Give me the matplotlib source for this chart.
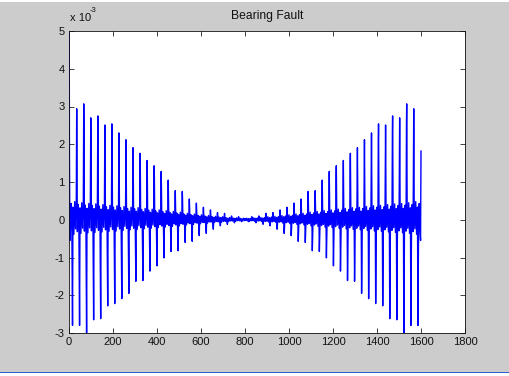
import matplotlib
matplotlib.use("Agg")
import matplotlib.pyplot as plt
from matplotlib.ticker import MultipleLocator, FuncFormatter
from matplotlib.patches import Rectangle

# left half of the trace (units of 1e-3);
# the trace is mirror symmetric about sample 801
period = 32
start_vals = [5.0, 1.82, 0.7, -0.55]          # samples 1..4
center_value = 0.03                            # sample 801
pos_peak = [2.94, 3.07, 2.70, 2.75, 2.51, 2.54, 2.30, 2.12, 1.91, 1.76, 1.57, 1.43,
            1.28, 1.05, 0.77, 0.75, 0.55, 0.44, 0.33, 0.26, 0.19, 0.17, 0.10, 0.08]
pos_next = [1.87, 2.54, 1.93, 2.36, 1.65, 2.09, 1.56, 1.45, 1.38, 1.52, 1.19, 1.13,
            0.90, 0.70, 0.50, 0.55, 0.35, 0.30, 0.20, 0.18, 0.12, 0.10, 0.06, 0.05]
neg_peak = [-2.80, -2.80, -3.05, -2.65, -2.62, -2.28, -2.22, -2.09, -1.95, -1.63, -1.61,
            -1.36, -1.22, -1.01, -0.84, -0.82, -0.60, -0.57, -0.42, -0.36, -0.25, -0.16,
            -0.12, -0.08, -0.05]
ripple = [0.48, 0.45, 0.43, 0.42, 0.4, 0.38, 0.37, 0.35, 0.33, 0.32, 0.3, 0.28, 0.26,
          0.24, 0.22, 0.2, 0.17, 0.15, 0.13, 0.11, 0.09, 0.08, 0.06, 0.05, 0.04]

# shape of the small oscillation inside one period (offset, fraction of ripple)
ripple_shape = [(0, 0.8), (5, -0.7), (9, 0.9), (12, -0.4),
                (17, 0.7), (21, -0.8), (25, 1.0), (29, -0.5)]

xs, ys = [], []
for k in range(len(neg_peak)):
    s = period * k + 1
    pts = {off: f * ripple[k] for off, f in ripple_shape}
    if k == 0:
        for i, v in enumerate(start_vals):
            pts[i] = v
    else:
        pts[2] = pos_peak[k - 1]
        pts[3] = pos_next[k - 1]
    pts[14] = 0.65 * neg_peak[k]
    pts[15] = neg_peak[k]
    for off in sorted(pts):
        xs.append(s + off)
        ys.append(pts[off])
xs.append(801)
ys.append(center_value)

right = [(1602 - x, y) for x, y in zip(xs, ys) if 2 <= x <= 800][::-1]
xs = xs + [p[0] for p in right]
ys = ys + [p[1] for p in right]
ys = [v * 1e-3 for v in ys]

plt.rcParams['font.family'] = ['Liberation Sans', 'DejaVu Sans']

fig = plt.figure(figsize=(5.10, 3.76), dpi=100, facecolor='#cccccc')
ax = fig.add_axes([69 / 510, 1 - 333 / 376, 396 / 510, 302 / 376])
ax.plot(xs, ys, color='#0000ff', linewidth=1.0)

ax.set_xlim(0, 1800)
ax.set_ylim(-3e-3, 5e-3)
ax.xaxis.set_major_locator(MultipleLocator(200))
ax.yaxis.set_major_locator(MultipleLocator(1e-3))
ax.yaxis.set_major_formatter(FuncFormatter(lambda v, p: f"{round(v * 1e3):d}"))
ax.tick_params(direction='in', length=3.5, width=0.6, labelsize=8, pad=3,
               top=True, right=True, colors='#222222', labelcolor='#111111')
for sp in ax.spines.values():
    sp.set_linewidth(0.6)
    sp.set_color('#111111')

ax.set_title('Bearing Fault', fontsize=8.7, pad=8.3, color='#111111')
fig.text(70 / 510, 1 - 21 / 376, 'x 10', fontsize=8, color='#111111', va='baseline')
fig.text(90 / 510, 1 - 12 / 376, '-3', fontsize=5.5, color='#111111', va='baseline')

# window borders seen in the screenshot
fig.add_artist(Rectangle((0, 1 - 2 / 376), 1, 2 / 376, transform=fig.transFigure,
                         facecolor='white', edgecolor='none'))
fig.add_artist(Rectangle((0, 0), 1, 3 / 376, transform=fig.transFigure,
                         facecolor='white', edgecolor='none'))
fig.add_artist(Rectangle((0, 3 / 376), 1, 1.5 / 376, transform=fig.transFigure,
                         facecolor='#2a5cd0', edgecolor='none'))

fig.savefig('out.png', dpi=100, facecolor=fig.get_facecolor())
